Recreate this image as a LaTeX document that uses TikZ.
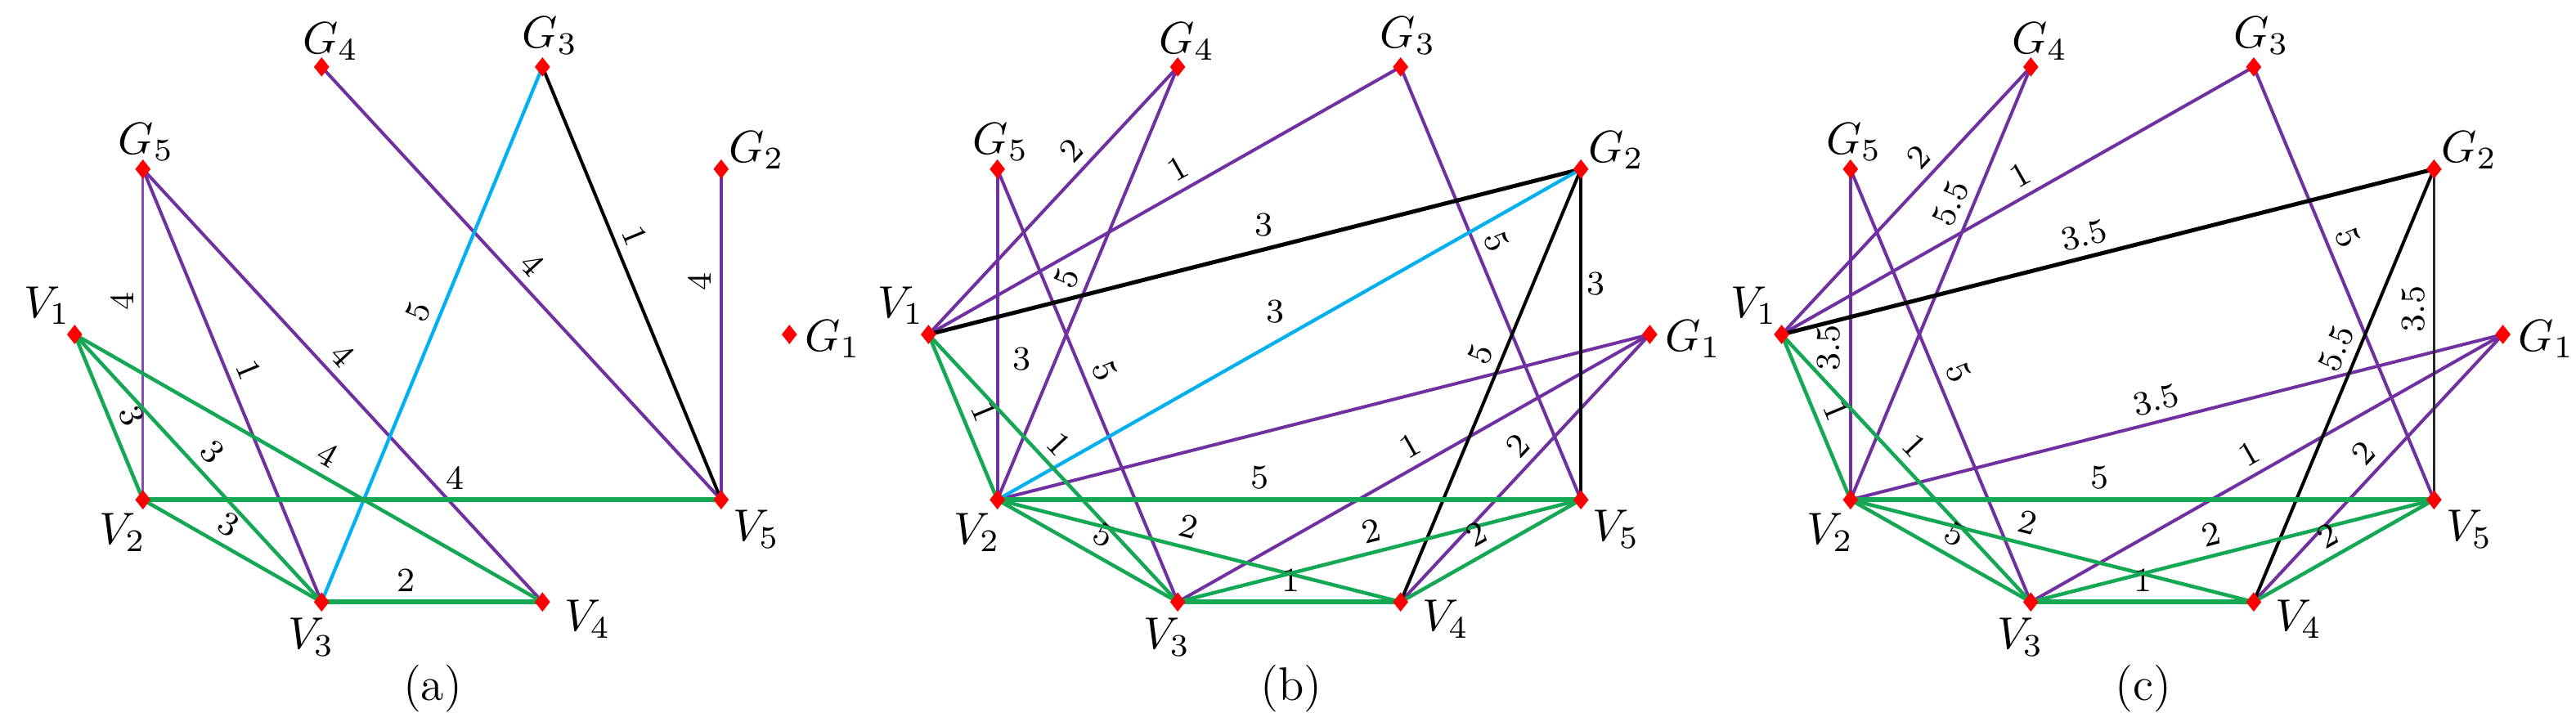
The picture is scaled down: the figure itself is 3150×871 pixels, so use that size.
\RequirePackage{fix-cm}
\documentclass[tikz,border=0pt]{standalone}
\usetikzlibrary{shapes.geometric}
\definecolor{mygreen}{RGB}{20,168,84}
\definecolor{mypurple}{RGB}{112,48,160}
\definecolor{myblue}{RGB}{0,176,240}
\pgfdeclarelayer{bg}
\pgfsetlayers{bg,main}
\tikzset{
  dia/.style={diamond, aspect=0.8, fill=red, draw=none, inner sep=0pt, minimum width=3.9pt, minimum height=4.9pt},
  gE/.style={draw=mygreen, line width=0.9pt},
  gEt/.style={draw=mygreen, line width=1.15pt},
  pE/.style={draw=mypurple, line width=0.8pt},
  pEthin/.style={draw=mypurple!85, line width=0.6pt},
  bE/.style={draw=myblue, line width=0.85pt},
  kE/.style={draw=black, line width=0.8pt},
  kEt/.style={draw=black, line width=1pt},
  kEthin/.style={draw=black!85, line width=0.45pt},
  wl/.style={font=\fontsize{8.3}{9}\selectfont, inner sep=2pt, sloped, above},
  wu/.style={font=\fontsize{8.3}{9}\selectfont, inner sep=0pt},
  vl/.style={font=\fontsize{11}{13}\selectfont, inner sep=0pt},
  captext/.style={font=\fontsize{11.5}{13}\selectfont, inner sep=0pt}
}
\begin{document}
\begin{tikzpicture}[x=0.2pt, y=-0.2pt]
\useasboundingbox (0,0) rectangle (3150,871);
% vertices
\foreach \p/\cx/\rx in {a/528.3/437, b/1576.4/441, c/2619.6/441}{
  \foreach \n/\a in {G1/0,G2/36,G3/72,G4/108,G5/144,V1/180,V2/216,V3/252,V4/288,V5/324}{
    \node[dia] (\p\n) at ({\cx+\rx*cos(\a)},{409-344*sin(\a)}) {};
  }
  \node[vl] (\p G1t) at ([shift={(53,6)}]\p G1) {$G_1$};
  \node[vl] (\p G2t) at ([shift={(43,-23)}]\p G2) {$G_2$};
  \node[vl] (\p G3t) at ([shift={(9,-38)}]\p G3) {$G_3$};
  \node[vl] (\p G4t) at ([shift={(11,-31)}]\p G4) {$G_4$};
  \node[vl] (\p G5t) at ([shift={(4,-33)}]\p G5) {$G_5$};
  \node[vl] (\p V1t) at ([shift={(-34,-35)}]\p V1) {$V_1$};
  \node[vl] (\p V2t) at ([shift={(-25,40)}]\p V2) {$V_2$};
  \node[vl] (\p V3t) at ([shift={(-13,43)}]\p V3) {$V_3$};
  \node[vl] (\p V4t) at ([shift={(55,21)}]\p V4) {$V_4$};
  \node[vl] (\p V5t) at ([shift={(43,36)}]\p V5) {$V_5$};
}
\node[captext] (capa) at (529,842) {(a)};
\node[captext] (capb) at (1579,842) {(b)};
\node[captext] (capc) at (2621,842) {(c)};

\begin{pgfonlayer}{bg}
% ---------- panel (a)
\draw[pEthin] (aV2.center) -- node[wl,pos=0.60]{4} (aG5.center);
\draw[pE] (aG5.center) -- node[wl,pos=0.483]{1} (aV3.center);
\draw[pE] (aG5.center) -- node[wl,pos=0.462]{4} (aV4.center);
\draw[pE] (aG4.center) -- node[wl,pos=0.489]{4} (aV5.center);
\draw[bE] (aV3.center) -- node[wl,pos=0.527]{5} (aG3.center);
\draw[kE] (aG3.center) -- node[wl,pos=0.409]{1} (aV5.center);
\draw[pE] (aV5.center) -- node[wl,pos=0.66]{4} (aG2.center);
\draw[gE] (aV1.center) -- node[wl,pos=0.543]{3} (aV2.center);
\draw[gE] (aV1.center) -- node[wl,pos=0.494]{3} (aV3.center);
\draw[gE] (aV1.center) -- node[wl,pos=0.519]{4} (aV4.center);
\draw[gE] (aV2.center) -- node[wl,pos=0.422]{3} (aV3.center);
\draw[gEt] (aV2.center) -- node[wl,pos=0.54]{4} (aV5.center);
\draw[gEt] (aV3.center) -- node[wl,pos=0.384]{2} (aV4.center);
% ---------- panel (b)
\draw[pE] (bV1.center) -- node[wl,pos=0.634]{2} (bG4.center);
\draw[pE] (bV2.center) -- node[wl,pos=0.492]{5} (bG4.center);
\draw[pE] (bV1.center) -- node[wl,pos=0.551]{1} (bG3.center);
\draw[pE] (bG3.center) -- node[wl,pos=0.423]{5} (bV5.center);
\draw[pE] (bG5.center) -- node[wu,pos=0.574,xshift=6pt]{3} (bV2.center);
\draw[pE] (bG5.center) -- node[wl,pos=0.4845]{5} (bV3.center);
\draw[pE] (bV2.center) -- (bG1.center);
\draw[pE] (bV3.center) -- node[wl,pos=0.5146]{1} (bG1.center);
\draw[pE] (bV4.center) -- node[wl,pos=0.531]{2} (bG1.center);
\draw[kEt] (bV1.center) -- node[wu,pos=0.5135,yshift=6pt]{3} (bG2.center);
\draw[kE] (bG2.center) -- node[wu,pos=0.347,xshift=3.6pt]{3} (bV5.center);
\draw[kE] (bG2.center) -- node[wl,pos=0.447]{5} (bV4.center);
\draw[bE] (bV2.center) -- node[wu,pos=0.476,yshift=7.6pt]{3} (bG2.center);
\draw[gE] (bV1.center) -- node[wl,pos=0.517]{1} (bV2.center);
\draw[gE] (bV1.center) -- node[wl,pos=0.463]{1} (bV3.center);
\draw[gEt] (bV2.center) -- node[wl,pos=0.45]{5} (bV5.center);
\draw[gE] (bV2.center) -- node[wl,pos=0.5306]{5} (bV3.center);
\draw[gE] (bV2.center) -- node[wl,pos=0.4616]{2} (bV4.center);
\draw[gEt] (bV3.center) -- node[wl,pos=0.506]{1} (bV4.center);
\draw[gE] (bV3.center) -- node[wl,pos=0.493]{2} (bV5.center);
\draw[gE] (bV4.center) -- node[wl,pos=0.48]{2} (bV5.center);
% ---------- panel (c)
\draw[pE] (cV1.center) -- node[wl,pos=0.611]{2} (cG4.center);
\draw[pE] (cV2.center) -- node[wl,pos=0.666]{5.5} (cG4.center);
\draw[pE] (cV1.center) -- node[wl,pos=0.528]{1} (cG3.center);
\draw[pE] (cG3.center) -- node[wl,pos=0.414]{5} (cV5.center);
\draw[pE] (cV2.center) -- node[wl,pos=0.46]{3.5} (cG5.center);
\draw[pE] (cG5.center) -- node[wl,pos=0.489]{5} (cV3.center);
\draw[pE] (cV2.center) -- node[wl,pos=0.4766]{3.5} (cG1.center);
\draw[pE] (cV3.center) -- node[wl,pos=0.4837]{1} (cG1.center);
\draw[pE] (cV4.center) -- node[wl,pos=0.503]{2} (cG1.center);
\draw[kEt] (cV1.center) -- node[wl,pos=0.4716]{3.5} (cG2.center);
\draw[kEthin] (cV5.center) -- node[wl,pos=0.577]{3.5} (cG2.center);
\draw[kE] (cG2.center) -- node[wl,pos=0.433]{5.5} (cV4.center);
\draw[gE] (cV1.center) -- node[wl,pos=0.5115]{1} (cV2.center);
\draw[gE] (cV1.center) -- node[wl,pos=0.47]{1} (cV3.center);
\draw[gEt] (cV2.center) -- node[wl,pos=0.427]{5} (cV5.center);
\draw[gE] (cV2.center) -- node[wl,pos=0.5195]{5} (cV3.center);
\draw[gE] (cV2.center) -- node[wl,pos=0.427]{2} (cV4.center);
\draw[gEt] (cV3.center) -- node[wl,pos=0.505]{1} (cV4.center);
\draw[gE] (cV3.center) -- node[wl,pos=0.46]{2} (cV5.center);
\draw[gE] (cV4.center) -- node[wl,pos=0.467]{2} (cV5.center);
\end{pgfonlayer}
\end{tikzpicture}
\end{document}
